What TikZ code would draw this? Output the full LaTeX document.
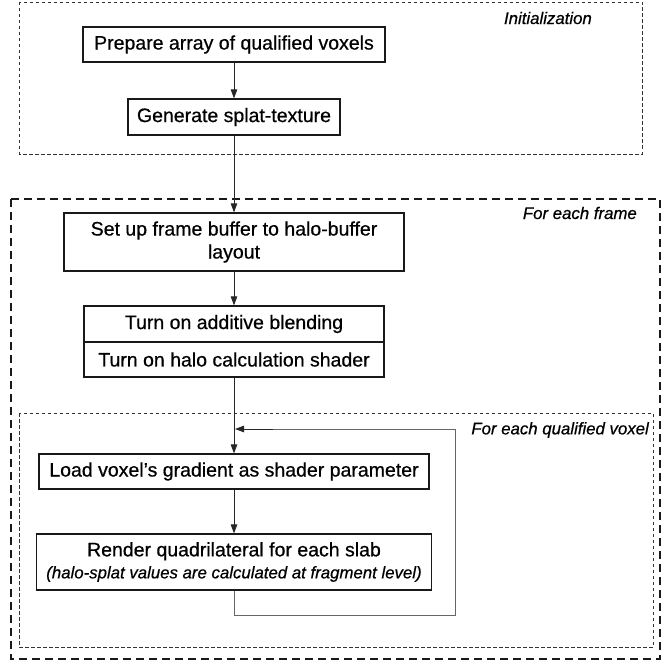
\documentclass[tikz,border=0pt]{standalone}
\usepackage{fontspec}
\setmainfont{Liberation Sans}[FakeBold=0.6]
\usetikzlibrary{arrows.meta}
\tikzset{
  stepbox/.style={draw=black!90, line width=1.2pt, rectangle, inner sep=0pt, align=center,
    font=\fontsize{19.5}{23}\selectfont},
  flow/.style={draw=black!85, line width=0.9pt, -{Triangle[length=9pt,width=6.5pt]}},
  loopline/.style={draw=black!60, line width=1pt},
  thinframe/.style={draw=black!80, line width=0.9pt, dash pattern=on 3.5pt off 2.5pt},
  thickframe/.style={draw=black!90, line width=1.5pt, dash pattern=on 8pt off 5pt},
  framelabel/.style={anchor=east, inner sep=0pt, font=\fontsize{16.8}{20}\selectfont\itshape}
}
\begin{document}
\begin{tikzpicture}[x=1pt,y=-1pt]
\useasboundingbox (0,0) rectangle (668,663);
% frames
\draw[thinframe] (19,2) rectangle (642,154);
\draw[thickframe] (11,199) rectangle (660,659);
\draw[thinframe] (19,413) rectangle (653,647);
\node[framelabel] (lInit) at (592,18) {Initialization};
\node[framelabel] (lFrame) at (637,213) {For each frame};
\node[framelabel] (lVoxel) at (649,430) {For each qualified voxel};
% boxes
\node[stepbox, minimum width=302pt, minimum height=35pt] (b1) at (234,44.5) {Prepare array of qualified voxels};
\node[stepbox, minimum width=212pt, minimum height=36pt] (b2) at (234,117) {Generate splat-texture};
\node[stepbox, minimum width=340pt, minimum height=58pt] (b3) at (234,242) {Set up frame buffer to halo-buffer\\layout};
\node[stepbox, minimum width=300pt, minimum height=36pt] (b4a) at (234,324) {Turn on additive blending};
\node[stepbox, minimum width=300pt, minimum height=35pt] (b4b) at (234,359.5) {Turn on halo calculation shader};
\node[stepbox, minimum width=390pt, minimum height=35pt] (b5) at (234,471.5) {Load voxel’s gradient as shader parameter};
\node[stepbox, minimum width=395pt, minimum height=56pt, font=\fontsize{19.5}{22}\selectfont] (b6) at (234,562) {Render quadrilateral for each slab\\{\fontsize{16.8}{20}\selectfont\itshape (halo-splat values are calculated at fragment level)}};
% connectors
\draw[flow] (b1.south) -- (b2.north);
\draw[flow] (b2.south) -- (b3.north);
\draw[flow] (b3.south) -- (b4a.north);
\draw[flow] (b4b.south) -- (b5.north);
\draw[flow] (b5.south) -- (b6.north);
\coordinate (lp1) at (234,615);
\coordinate (lp2) at (455,615);
\coordinate (lp3) at (455,429);
\coordinate (lp4) at (273,429);
\coordinate (lp5) at (235,429);
\draw[loopline] (b6.south) -- (lp1) -- (lp2) -- (lp3) -- (lp4);
\draw[flow] (lp4) -- (lp5);
\end{tikzpicture}
\end{document}
